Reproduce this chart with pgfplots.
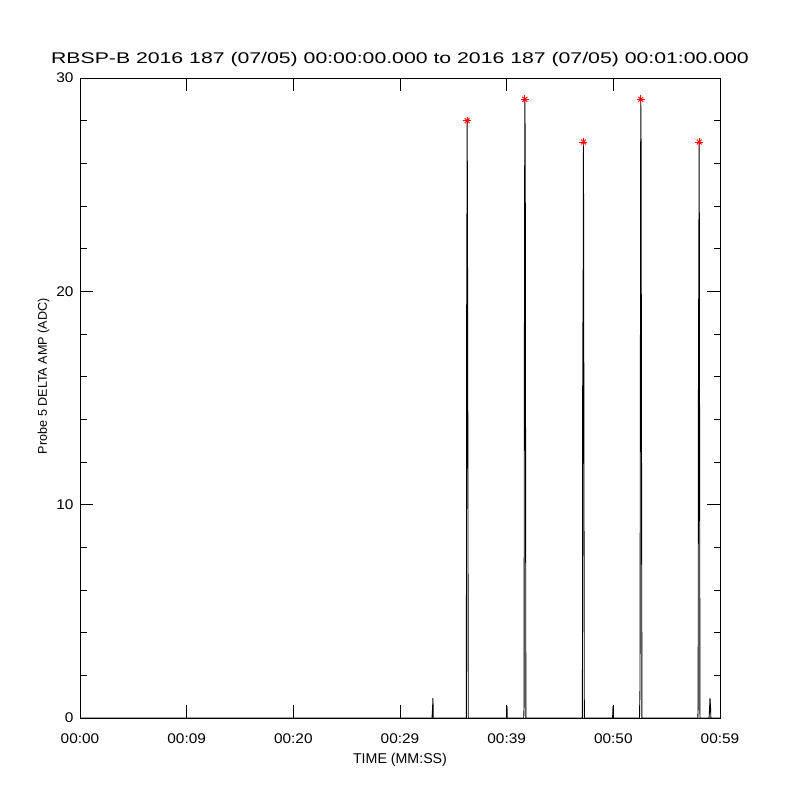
\documentclass[border=0pt]{standalone}
\usepackage{fontspec}
\setmainfont{Liberation Sans}
\newfontfamily\titlefont[FakeStretch=1.37]{Liberation Sans}
\newfontfamily\tickfont[FakeStretch=1.1]{Liberation Sans}
\usepackage{pgfplots}
\pgfplotsset{compat=1.18}
\begin{document}
\begin{tikzpicture}
\path[use as bounding box] (-80pt,-82pt) rectangle (720pt,718pt);
\begin{axis}[
  at={(0pt,0pt)}, anchor=south west,
  scale only axis, width=640pt, height=640pt,
  xmin=0, xmax=60, ymin=0, ymax=30,
  axis line style={line width=0.9pt},
  xtick={0,10,20,30,40,50,60},
  xticklabels={00:00,00:09,00:20,00:29,00:39,00:50,00:59},
  ytick={0,10,20,30},
  minor ytick={2,4,6,8,12,14,16,18,22,24,26,28},
  tick align=inside,
  xtick pos=both, ytick pos=both,
  xticklabel pos=lower, yticklabel pos=left,
  major tick length=13pt, minor tick length=6.5pt,
  every tick/.style={line width=0.9pt, black},
  /pgf/number format/assume math mode=true,
  xticklabel style={font=\fontsize{14}{16}\tickfont, anchor=base, yshift=-25pt},
  yticklabel style={font=\fontsize{14}{16}\tickfont, anchor=east, xshift=-3pt},
  title={\titlefont RBSP-B 2016 187 (07/05) 00:00:00.000 to 2016 187 (07/05) 00:01:00.000},
  title style={font=\fontsize{15.5}{18}\selectfont, at={(axis description cs:0.5,1)}, anchor=base, yshift=8.5pt},
  xlabel={TIME (MM:SS)},
  xlabel style={font=\fontsize{14.2}{16}\selectfont, at={(axis description cs:0.5,0)}, anchor=base, yshift=-45pt},
  ylabel={Probe 5 DELTA AMP (ADC)},
  ylabel style={font=\fontsize{12.6}{15}\selectfont, at={(axis description cs:-0.0516,0.534)}, anchor=base, rotate=0},
  clip=false,
]
\addplot[black, line width=0.9pt] table {
x y
0 0
33.00 0
33.05 0.42
33.09 0.94
33.12 0
36.22 0
36.25 18.9
36.30 28
36.34 19.5
36.40 0
39.98 0
40.03 0.56
40.06 0
41.60 0
41.63 0.5
41.66 16.5
41.70 29
41.74 27
41.80 0
47.10 0
47.13 17
47.17 20
47.20 27
47.28 0
49.93 0
49.97 0.56
50.00 0
52.45 0
52.50 1.4
52.53 13.5
52.57 29
52.60 27
52.68 0
57.92 0
57.95 0.5
57.98 16
58.02 22.5
58.05 27
58.12 0
58.98 0
59.02 0.42
59.06 0.94
59.12 0.42
59.14 0
60 0
};
\addplot[only marks, red, mark=+, mark size=4pt, line width=0.9pt] table {
x y
36.30 28
41.70 29
47.20 27
52.57 29
58.05 27
};
\addplot[only marks, red, mark=x, mark size=3.5pt, line width=0.9pt] table {
x y
36.30 28
41.70 29
47.20 27
52.57 29
58.05 27
};
\end{axis}
\end{tikzpicture}
\end{document}
